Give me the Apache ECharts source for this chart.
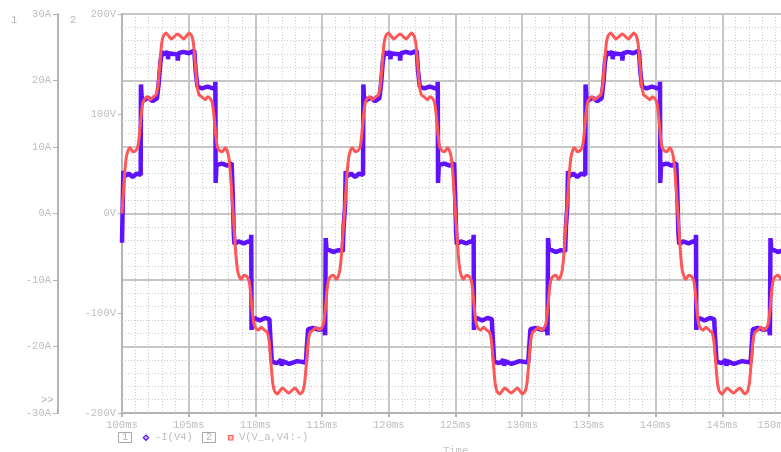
<!DOCTYPE html>
<html>
<head>
<meta charset="utf-8">
<script src="https://cdn.jsdelivr.net/npm/echarts@6/dist/echarts.min.js"></script>
<style>
html,body{margin:0;padding:0;background:#fff;}
#chart{width:781px;height:452px;}
</style>
</head>
<body>
<div id="chart"></div>
<script>
// ---- axis ticks ----
const timeTicks = [100, 105, 110, 115, 120, 125, 130, 135, 140, 145, 150];
const voltTicks = [-200, -100, 0, 100, 200];
const currTicks = [-30, -20, -10, 0, 10, 20, 30];
const legendNames = ['-I(V4)', 'V(V_a,V4:-)'];

// ---- V(V_a,V4:-) [ms, V] ----
const voltageCycle1 = [[100,0],[100.1,20],[100.2,40],[100.32,56],[100.45,63],[100.6,66],[100.8,62],[101,63],[101.12,65],[101.2,68],[101.3,78],[101.42,96],[101.55,110],[101.7,115],[101.9,117],[102.1,114],[102.35,117],[102.55,119],[102.7,128],[102.85,152],[102.97,170],[103.1,178],[103.3,181],[103.7,175],[104.17,180],[104.63,175],[105.03,181],[105.23,178],[105.36,170],[105.48,152],[105.63,128],[105.78,119],[105.98,117],[106.23,114],[106.43,117],[106.63,115],[106.78,110],[106.91,96],[107.03,78],[107.13,68],[107.21,65],[107.33,63],[107.53,62],[107.73,66],[107.88,63],[108.01,56],[108.13,40],[108.23,20],
[108.33,0],[108.43,-20],[108.53,-40],[108.65,-56],[108.78,-63],[108.93,-66],[109.13,-62],[109.33,-63],[109.45,-65],[109.53,-68],[109.63,-78],[109.75,-96],[109.88,-110],[110.03,-115],[110.23,-117],[110.43,-114],[110.68,-117],[110.88,-119],[111.03,-128],[111.18,-152],[111.3,-170],[111.43,-178],[111.63,-181],[112.03,-175],[112.5,-180],[112.96,-175],[113.36,-181],[113.56,-178],[113.69,-170],[113.81,-152],[113.96,-128],[114.11,-119],[114.31,-117],[114.56,-114],[114.76,-117],[114.96,-115],[115.11,-110],[115.24,-96],[115.36,-78],[115.46,-68],[115.54,-65],[115.66,-63],[115.86,-62],[116.06,-66],[116.21,-63],[116.34,-56],[116.46,-40],[116.56,-20]];
const voltageCycle2 = [[116.67,0],[116.77,20],[116.87,40],[116.99,56],[117.12,63],[117.27,66],[117.47,62],[117.67,63],[117.79,65],[117.87,68],[117.97,78],[118.09,96],[118.22,110],[118.37,115],[118.57,117],[118.77,114],[119.02,117],[119.22,119],[119.37,128],[119.52,152],[119.64,170],[119.77,178],[119.97,181],[120.37,175],[120.84,180],[121.3,175],[121.7,181],[121.9,178],[122.03,170],[122.15,152],[122.3,128],[122.45,119],[122.65,117],[122.9,114],[123.1,117],[123.3,115],[123.45,110],[123.58,96],[123.7,78],[123.8,68],[123.88,65],[124,63],[124.2,62],[124.4,66],[124.55,63],[124.68,56],[124.8,40],[124.9,20],
[125,0],[125.1,-20],[125.2,-40],[125.32,-56],[125.45,-63],[125.6,-66],[125.8,-62],[126,-63],[126.12,-65],[126.2,-68],[126.3,-78],[126.42,-96],[126.55,-110],[126.7,-115],[126.9,-117],[127.1,-114],[127.35,-117],[127.55,-119],[127.7,-128],[127.85,-152],[127.97,-170],[128.1,-178],[128.3,-181],[128.7,-175],[129.17,-180],[129.63,-175],[130.03,-181],[130.23,-178],[130.36,-170],[130.48,-152],[130.63,-128],[130.78,-119],[130.98,-117],[131.23,-114],[131.43,-117],[131.63,-115],[131.78,-110],[131.91,-96],[132.03,-78],[132.13,-68],[132.21,-65],[132.33,-63],[132.53,-62],[132.73,-66],[132.88,-63],[133.01,-56],[133.13,-40],[133.23,-20]];
const voltageCycle3 = [[133.33,0],[133.43,20],[133.53,40],[133.65,56],[133.78,63],[133.93,66],[134.13,62],[134.33,63],[134.45,65],[134.53,68],[134.63,78],[134.75,96],[134.88,110],[135.03,115],[135.23,117],[135.43,114],[135.68,117],[135.88,119],[136.03,128],[136.18,152],[136.3,170],[136.43,178],[136.63,181],[137.03,175],[137.5,180],[137.96,175],[138.36,181],[138.56,178],[138.69,170],[138.81,152],[138.96,128],[139.11,119],[139.31,117],[139.56,114],[139.76,117],[139.96,115],[140.11,110],[140.24,96],[140.36,78],[140.46,68],[140.54,65],[140.66,63],[140.86,62],[141.06,66],[141.21,63],[141.34,56],[141.46,40],[141.56,20],
[141.67,0],[141.77,-20],[141.87,-40],[141.99,-56],[142.12,-63],[142.27,-66],[142.47,-62],[142.67,-63],[142.79,-65],[142.87,-68],[142.97,-78],[143.09,-96],[143.22,-110],[143.37,-115],[143.57,-117],[143.77,-114],[144.02,-117],[144.22,-119],[144.37,-128],[144.52,-152],[144.64,-170],[144.77,-178],[144.97,-181],[145.37,-175],[145.84,-180],[146.3,-175],[146.7,-181],[146.9,-178],[147.03,-170],[147.15,-152],[147.3,-128],[147.45,-119],[147.65,-117],[147.9,-114],[148.1,-117],[148.3,-115],[148.45,-110],[148.58,-96],[148.7,-78],[148.8,-68],[148.88,-65],[149,-63],[149.2,-62],[149.4,-66],[149.55,-63],[149.68,-56],[149.8,-40],[149.9,-20],[150,0]];

// ---- -I(V4) [ms, A] ----
const currentCycle1 = [[100,-4.4],[100.05,1.0],[100.1,6.4],[100.18,5.6],[100.5,6.0],[100.8,5.5],[101.1,6.0],[101.4,5.8],[101.42,19.4],[101.47,17.6],[101.6,17.0],[101.95,17.4],[102.3,16.9],[102.62,17.3],[102.75,19.5],[102.88,22.8],[103,24.3],[103.25,23.9],[103.42,24.4],[103.45,23.2],[103.5,24.1],[103.85,24.0],[104.15,23.9],[104.18,23.0],[104.23,24.1],[104.6,24.3],[105,24.1],[105.42,24.5],[105.52,21.5],[105.65,19.1],[106,18.8],[106.4,19.1],[106.8,18.8],[106.98,19.0],[107,19.8],[107.02,4.6],[107.08,7.3],[107.5,7.5],[107.9,7.2],[108.22,7.6],[108.3,3.0],[108.38,-3.0],
[108.43,-4.6],[108.73,-4.2],[109.13,-4.5],[109.43,-4.2],[109.66,-4.4],[109.69,-3.2],[109.71,-17.5],[109.77,-16.2],[109.93,-15.7],[110.33,-16.1],[110.73,-15.7],[111.05,-15.9],[111.13,-19.0],[111.23,-22.3],[111.63,-22.5],[111.93,-22.0],[111.97,-22.9],[112.03,-22.2],[112.53,-22.6],[113.13,-22.2],[113.78,-22.4],[113.86,-20.0],[113.95,-17.4],[114.33,-17.2],[114.78,-17.5],[115.18,-17.3],[115.23,-18.3],[115.27,-3.7],[115.33,-5.3],[115.83,-5.8],[116.23,-5.5],[116.55,-5.7],[116.61,-2.0]];
const currentCycle2 = [[116.72,1.0],[116.77,6.4],[116.85,5.6],[117.17,6.0],[117.47,5.5],[117.77,6.0],[118.07,5.8],[118.09,19.4],[118.14,17.6],[118.27,17.0],[118.62,17.4],[118.97,16.9],[119.29,17.3],[119.42,19.5],[119.55,22.8],[119.67,24.3],[119.92,23.9],[120.09,24.4],[120.12,23.2],[120.17,24.1],[120.52,24.0],[120.82,23.9],[120.85,23.0],[120.9,24.1],[121.27,24.3],[121.67,24.1],[122.09,24.5],[122.19,21.5],[122.32,19.1],[122.67,18.8],[123.07,19.1],[123.47,18.8],[123.65,19.0],[123.67,19.8],[123.69,4.6],[123.75,7.3],[124.17,7.5],[124.57,7.2],[124.89,7.6],[124.97,3.0],[125.05,-3.0],
[125.1,-4.6],[125.4,-4.2],[125.8,-4.5],[126.1,-4.2],[126.33,-4.4],[126.36,-3.2],[126.38,-17.5],[126.44,-16.2],[126.6,-15.7],[127,-16.1],[127.4,-15.7],[127.72,-15.9],[127.8,-19.0],[127.9,-22.3],[128.3,-22.5],[128.6,-22.0],[128.64,-22.9],[128.7,-22.2],[129.2,-22.6],[129.8,-22.2],[130.45,-22.4],[130.53,-20.0],[130.62,-17.4],[131,-17.2],[131.45,-17.5],[131.85,-17.3],[131.9,-18.3],[131.94,-3.7],[132,-5.3],[132.5,-5.8],[132.9,-5.5],[133.22,-5.7],[133.28,-2.0]];
const currentCycle3 = [[133.38,1.0],[133.43,6.4],[133.51,5.6],[133.83,6.0],[134.13,5.5],[134.43,6.0],[134.73,5.8],[134.75,19.4],[134.8,17.6],[134.93,17.0],[135.28,17.4],[135.63,16.9],[135.95,17.3],[136.08,19.5],[136.21,22.8],[136.33,24.3],[136.58,23.9],[136.75,24.4],[136.78,23.2],[136.83,24.1],[137.18,24.0],[137.48,23.9],[137.51,23.0],[137.56,24.1],[137.93,24.3],[138.33,24.1],[138.75,24.5],[138.85,21.5],[138.98,19.1],[139.33,18.8],[139.73,19.1],[140.13,18.8],[140.31,19.0],[140.33,19.8],[140.35,4.6],[140.41,7.3],[140.83,7.5],[141.23,7.2],[141.55,7.6],[141.63,3.0],[141.71,-3.0],
[141.77,-4.6],[142.07,-4.2],[142.47,-4.5],[142.77,-4.2],[143,-4.4],[143.03,-3.2],[143.05,-17.5],[143.11,-16.2],[143.27,-15.7],[143.67,-16.1],[144.07,-15.7],[144.39,-15.9],[144.47,-19.0],[144.57,-22.3],[144.97,-22.5],[145.27,-22.0],[145.31,-22.9],[145.37,-22.2],[145.87,-22.6],[146.47,-22.2],[147.12,-22.4],[147.2,-20.0],[147.29,-17.4],[147.67,-17.2],[148.12,-17.5],[148.52,-17.3],[148.57,-18.3],[148.61,-3.7],[148.67,-5.3],[149.17,-5.8],[149.57,-5.5],[149.89,-5.7],[149.95,-2.0],[150,1.0]];

const FONT = 'Liberation Mono';
const TXT = '#bdbdbd';
const MAJOR = '#c6c6c6';
const MINOR = '#cbcbcb';

const chart = echarts.init(document.getElementById('chart'), null, {renderer: 'canvas'});
chart.setOption({
  animation: false,
  backgroundColor: '#ffffff',
  grid: {left: 122, top: 14, width: 667, height: 399, containLabel: false, outerBoundsMode: 'none'},
  xAxis: {
    type: 'value', min: timeTicks[0], max: timeTicks[timeTicks.length - 1], interval: 5,
    axisLine: {show: true, onZero: false, lineStyle: {color: '#b4b4b4', width: 2}},
    axisTick: {show: true, length: 4, lineStyle: {color: '#b4b4b4', width: 2}},
    axisLabel: {color: TXT, fontFamily: FONT, fontSize: 10.5, margin: 7, alignMaxLabel: 'right', formatter: v => v + 'ms'},
    splitLine: {show: true, lineStyle: {color: MAJOR, width: 2}},
    minorTick: {show: false, splitNumber: 5},
    minorSplitLine: {show: true, lineStyle: {color: MINOR, width: 1, type: [1, 2]}}
  },
  yAxis: [
    {
      type: 'value', min: voltTicks[0], max: voltTicks[voltTicks.length - 1], interval: 100, position: 'left', offset: 0,
      axisLine: {show: true, onZero: false, lineStyle: {color: '#b4b4b4', width: 2}},
      axisTick: {show: true, length: 4, lineStyle: {color: '#b4b4b4', width: 1}},
      axisLabel: {color: TXT, fontFamily: FONT, fontSize: 10.5, margin: 6, formatter: v => v + 'V'},
      splitLine: {show: false}
    },
    {
      type: 'value', min: currTicks[0], max: currTicks[currTicks.length - 1], interval: 10, position: 'left', offset: 64,
      axisLine: {show: true, onZero: false, lineStyle: {color: '#b4b4b4', width: 2}},
      axisTick: {show: true, length: 5, lineStyle: {color: '#b4b4b4', width: 1}},
      axisLabel: {color: TXT, fontFamily: FONT, fontSize: 10.5, margin: 7, formatter: v => v + 'A'},
      splitLine: {show: true, lineStyle: {color: MAJOR, width: 2}},
      minorTick: {show: false, splitNumber: 5},
      minorSplitLine: {show: true, lineStyle: {color: MINOR, width: 1, type: [1, 2]}}
    }
  ],
  series: [
    {
      name: legendNames[0], type: 'line', yAxisIndex: 1, showSymbol: false, smooth: false,
      lineStyle: {color: '#5f12ff', width: 4.5}, itemStyle: {color: '#5f12ff'},
      data: [...currentCycle1, ...currentCycle2, ...currentCycle3], z: 3
    },
    {
      name: legendNames[1], type: 'line', yAxisIndex: 0, showSymbol: false, smooth: 0.2,
      lineStyle: {color: '#ff5656', width: 3}, itemStyle: {color: '#ff5656'},
      data: [...voltageCycle1, ...voltageCycle2, ...voltageCycle3], z: 4
    }
  ],
  graphic: [
    {type: 'text', left: 11, top: 15, style: {text: '1', fill: '#b5b5b5', font: '10.5px "Liberation Mono"'}},
    {type: 'text', left: 70, top: 15, style: {text: '2', fill: '#b5b5b5', font: '10.5px "Liberation Mono"'}},
    {type: 'text', left: 41, top: 395, style: {text: '>>', fill: '#b5b5b5', font: '10.5px "Liberation Mono"'}},
    {type: 'rect', shape: {x: 118.5, y: 432.5, width: 13, height: 10}, style: {fill: '#fff', stroke: '#a8a8a8', lineWidth: 1}},
    {type: 'text', left: 122, top: 432, style: {text: '1', fill: '#b5b5b5', font: '10.5px "Liberation Mono"'}},
    {type: 'polygon', shape: {points: [[146, 435], [148.7, 437.7], [146, 440.4], [143.3, 437.7]]}, style: {fill: '#c8b8ff', stroke: '#5f12ff', lineWidth: 1.2}},
    {type: 'text', left: 155, top: 432, style: {text: legendNames[0], fill: '#bdbdbd', font: '10.5px "Liberation Mono"'}},
    {type: 'rect', shape: {x: 202.5, y: 432.5, width: 13, height: 10}, style: {fill: '#fff', stroke: '#a8a8a8', lineWidth: 1}},
    {type: 'text', left: 206, top: 432, style: {text: '2', fill: '#b5b5b5', font: '10.5px "Liberation Mono"'}},
    {type: 'rect', shape: {x: 228.5, y: 435.5, width: 4.5, height: 4.5}, style: {fill: '#ffd0d0', stroke: '#ff5656', lineWidth: 1.2}},
    {type: 'text', left: 239, top: 432, style: {text: legendNames[1], fill: '#bdbdbd', font: '10.5px "Liberation Mono"'}},
    {type: 'text', left: 443, top: 446, style: {text: 'Time', fill: '#c4c4c4', font: '10.5px "Liberation Mono"'}}
  ]
});
</script>
</body>
</html>
